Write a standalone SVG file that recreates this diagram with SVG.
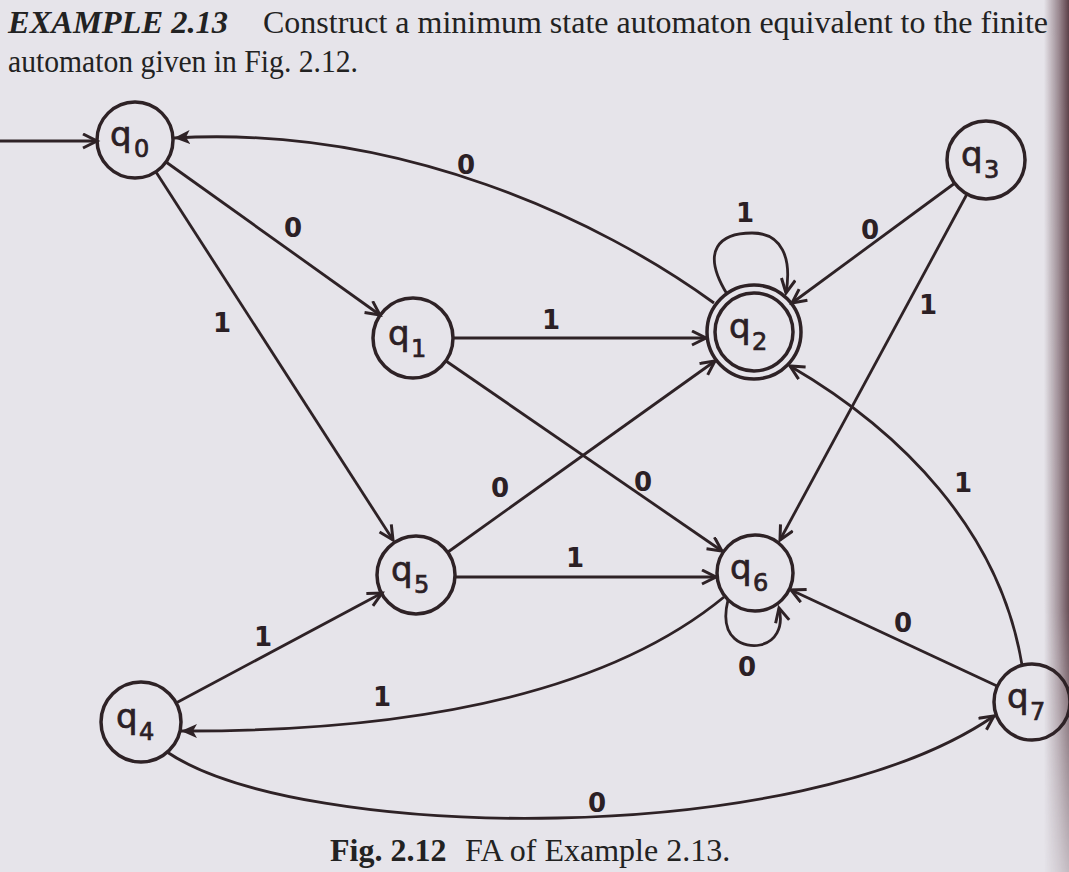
<svg xmlns="http://www.w3.org/2000/svg" width="1069" height="872" viewBox="0 0 1069 872">
  <defs>
    <linearGradient id="spine" x1="0" y1="0" x2="1" y2="0">
      <stop offset="0" stop-color="#5a3b44" stop-opacity="0"/>
      <stop offset="0.55" stop-color="#5a3b44" stop-opacity="0.5"/>
      <stop offset="1" stop-color="#4a2c34" stop-opacity="0.9"/>
    </linearGradient>
    <linearGradient id="spinefade" x1="0" y1="0" x2="0" y2="1">
      <stop offset="0" stop-color="#fff" stop-opacity="1"/>
      <stop offset="0.7" stop-color="#fff" stop-opacity="0.9"/>
      <stop offset="1" stop-color="#fff" stop-opacity="0.25"/>
    </linearGradient>
    <mask id="spinemask"><rect x="1040" y="0" width="29" height="872" fill="url(#spinefade)"/></mask>
    <marker id="arr" markerUnits="userSpaceOnUse" markerWidth="22" markerHeight="18" refX="15" refY="8" orient="auto">
      <path d="M1,1 L15,8 L1,15" fill="none" stroke="#2e2226" stroke-width="3" stroke-linejoin="miter"/>
    </marker>
    <marker id="arrf" markerUnits="userSpaceOnUse" markerWidth="20" markerHeight="16" refX="16" refY="7" orient="auto">
      <path d="M0,0 L16,7 L0,14 L4,7 Z" fill="#2e2226"/>
    </marker>
    <style>
      .st { fill: none; stroke: #2e2226; stroke-width: 3.5; }
      .ed { fill: none; stroke: #2e2226; stroke-width: 2.8; marker-end: url(#arr); }
      .ef { fill: none; stroke: #2e2226; stroke-width: 2.8; marker-end: url(#arrf); }
      .ql { font-family: "DejaVu Sans", "Liberation Sans", sans-serif; font-size: 34px; fill: #2b2025; stroke: #2b2025; stroke-width: 0.7; }
      .qs { font-size: 24px; }
      .lb { font-family: "DejaVu Sans", "Liberation Sans", sans-serif; font-size: 26px; font-weight: bold; fill: #2b2025; text-anchor: middle; }
      .hd { font-family: "Liberation Serif", "Times New Roman", serif; font-size: 32px; fill: #222; }
    </style>
  </defs>

  <rect width="1069" height="872" fill="#e6e4ea"/>
  <rect x="1044" y="0" width="25" height="872" fill="url(#spine)" mask="url(#spinemask)"/>

  <g id="header">
    <text class="hd" x="8" y="33" textLength="220" lengthAdjust="spacingAndGlyphs" font-weight="bold" font-style="italic">EXAMPLE 2.13</text>
    <text class="hd" x="263" y="33" textLength="785" lengthAdjust="spacingAndGlyphs">Construct a minimum state automaton equivalent to the finite</text>
    <text class="hd" x="8" y="72" textLength="350" lengthAdjust="spacingAndGlyphs">automaton given in Fig. 2.12.</text>
  </g>

  <g id="connectors">
    <line class="ed" x1="0" y1="141" x2="97" y2="141"/>
    <line class="ed" x1="166" y1="162" x2="380" y2="315"/>
    <line class="ed" x1="156" y1="172" x2="393" y2="540"/>
    <path class="ef" d="M714,303 C600,220 400,125 174,138"/>
    <path class="ed" d="M727,294 C700,250 720,233 752,233 C782,233 792,258 786,293"/>
    <line class="ed" x1="955" y1="183" x2="792" y2="303"/>
    <line class="ed" x1="967" y1="194" x2="780" y2="540"/>
    <line class="ed" x1="453" y1="338" x2="706" y2="338"/>
    <line class="ed" x1="446" y1="361" x2="722" y2="551"/>
    <line class="ed" x1="448" y1="552" x2="715" y2="361"/>
    <line class="ed" x1="455" y1="577" x2="716" y2="577"/>
    <path class="ed" d="M728,600 C718,640 745,648 760,645 C775,642 784,628 779,608"/>
    <line class="ed" x1="997" y1="686" x2="791" y2="590"/>
    <path class="ed" d="M1022,665 C1000,530 900,430 790,366"/>
    <path class="ef" d="M724,597 Q560,732 181,731"/>
    <line class="ed" x1="176" y1="703" x2="382" y2="593"/>
    <path class="ed" d="M167,752 C300,842 800,850 994,716"/>
  </g>

  <g id="edge-labels">
    <text class="lb" x="293" y="237">0</text>
    <text class="lb" x="222" y="332">1</text>
    <text class="lb" x="466" y="174">0</text>
    <text class="lb" x="745" y="222">1</text>
    <text class="lb" x="870" y="239">0</text>
    <text class="lb" x="928" y="314">1</text>
    <text class="lb" x="551" y="329">1</text>
    <text class="lb" x="643" y="491">0</text>
    <text class="lb" x="500" y="497">0</text>
    <text class="lb" x="575" y="567">1</text>
    <text class="lb" x="747" y="676">0</text>
    <text class="lb" x="903" y="632">0</text>
    <text class="lb" x="963" y="492">1</text>
    <text class="lb" x="263" y="646">1</text>
    <text class="lb" x="382" y="706">1</text>
    <text class="lb" x="597" y="812">0</text>
  </g>

  <g id="q0"><circle class="st" cx="135" cy="140" r="38"/><text class="ql" x="110" y="146">q<tspan class="qs" x="134" y="157">0</tspan></text></g>
  <g id="q1"><circle class="st" cx="413" cy="338" r="40"/><text class="ql" x="388" y="345">q<tspan class="qs" x="411" y="357">1</tspan></text></g>
  <g id="q2"><circle class="st" cx="754" cy="332" r="47"/><circle class="st" cx="754" cy="332" r="39"/><text class="ql" x="729" y="338">q<tspan class="qs" x="752" y="350">2</tspan></text></g>
  <g id="q3"><circle class="st" cx="986" cy="160" r="39"/><text class="ql" x="961" y="166">q<tspan class="qs" x="984" y="178">3</tspan></text></g>
  <g id="q4"><circle class="st" cx="141" cy="722" r="40"/><text class="ql" x="116" y="728">q<tspan class="qs" x="139" y="740">4</tspan></text></g>
  <g id="q5"><circle class="st" cx="416" cy="575" r="39"/><text class="ql" x="391" y="581">q<tspan class="qs" x="414" y="593">5</tspan></text></g>
  <g id="q6"><circle class="st" cx="755" cy="573" r="38"/><text class="ql" x="730" y="579">q<tspan class="qs" x="753" y="591">6</tspan></text></g>
  <g id="q7"><circle class="st" cx="1032" cy="702" r="38"/><text class="ql" x="1007" y="708">q<tspan class="qs" x="1030" y="720">7</tspan></text></g>

  <g id="caption">
    <text class="hd" x="330" y="861" font-size="33"><tspan font-weight="bold">Fig. 2.12</tspan><tspan x="465">FA of Example 2.13.</tspan></text>
  </g>
</svg>
